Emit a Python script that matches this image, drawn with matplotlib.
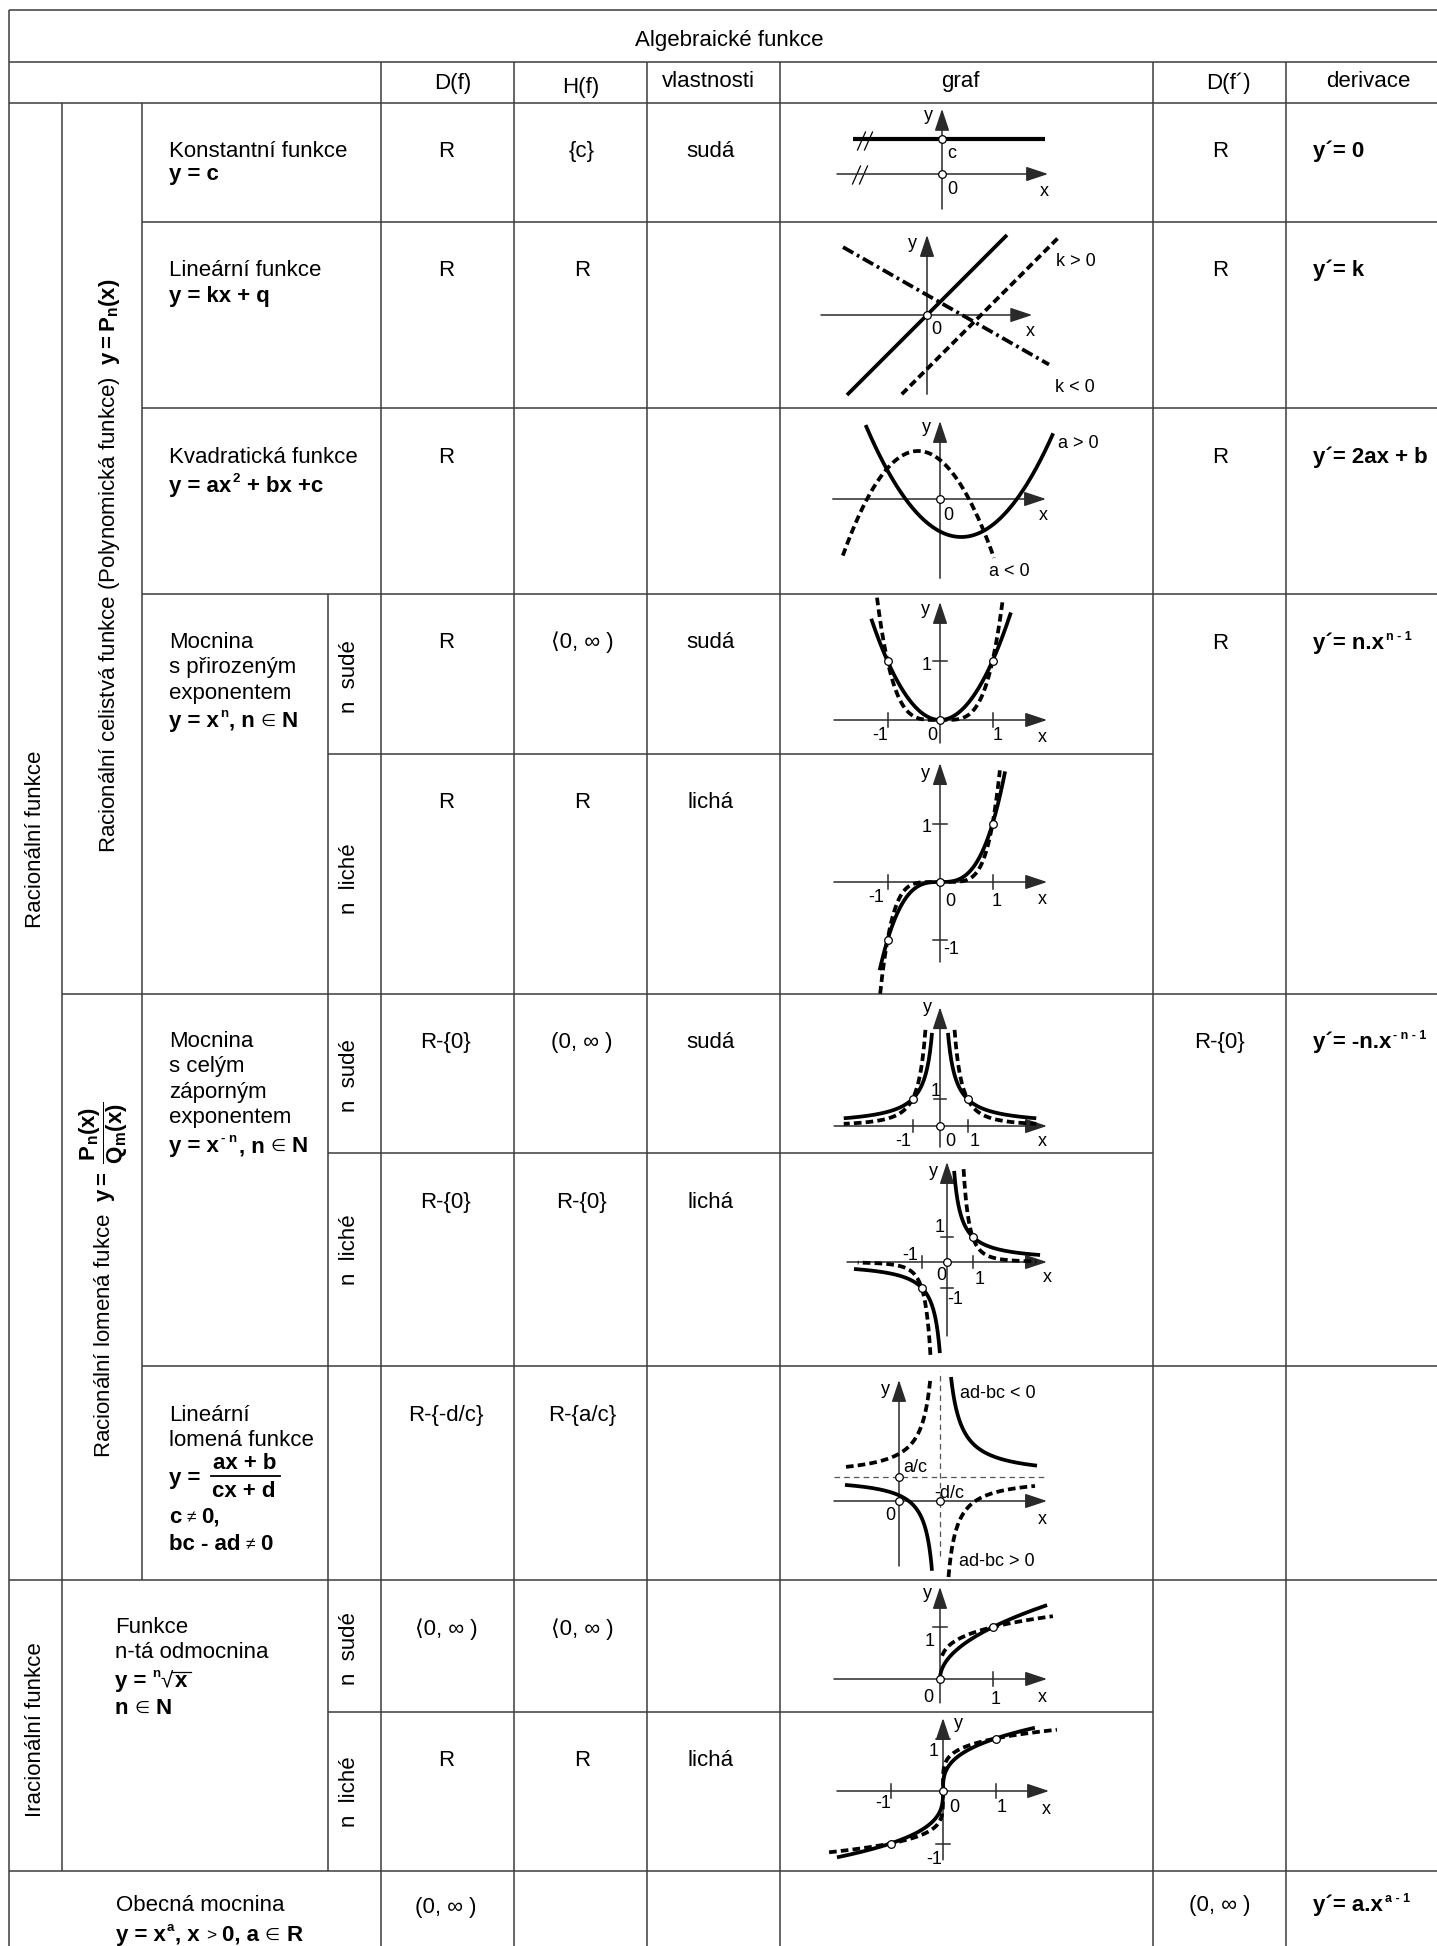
import numpy as np
import matplotlib
matplotlib.use("Agg")
import matplotlib.pyplot as plt

plt.rcParams["font.family"] = ["Liberation Sans", "DejaVu Sans"]
plt.rcParams["mathtext.fontset"] = "custom"
plt.rcParams["mathtext.rm"] = "Liberation Sans"
plt.rcParams["mathtext.it"] = "Liberation Sans:italic"
plt.rcParams["mathtext.bf"] = "Liberation Sans:bold"
plt.rcParams["mathtext.sf"] = "Liberation Sans"
plt.rcParams["lines.scale_dashes"] = False

# ===================== DATA =====================
TITLE = "Algebraické funkce"
COLUMN_HEADERS = ["D(f)", "H(f)", "vlastnosti", "graf", "D(f´)", "derivace"]
CLASS_LABELS = ["Racionální funkce", "Iracionální funkce"]
SUBCLASS_LABELS = [
    r"Racionální celistvá funkce (Polynomická funkce)  $\mathbf{y = P_n(x)}$",
    r"Racionální lomená fukce  $\mathbf{y =}\ \dfrac{\mathbf{P_n(x)}}{\mathbf{Q_m(x)}}$",
]
PARITY_LABELS = ["n sudé", "n liché", "n sudé", "n liché", "n sudé", "n liché"]

NAME_LINES = [
    ["Konstantní funkce"],
    ["Lineární funkce"],
    ["Kvadratická funkce"],
    ["Mocnina", "s přirozeným", "exponentem"],
    ["Mocnina", "s celým", "záporným", "exponentem"],
    ["Lineární", "lomená funkce"],
    ["Funkce", "n-tá odmocnina"],
    ["Obecná mocnina"],
]
# formula pieces: (text, style b=bold n=normal e=small symbol s=superscript, gap before)
FORMULAS = [
    [("y = c", "b", 0)],
    [("y = kx + q", "b", 0)],
    [("y = ax", "b", 0), ("2", "s", 1), ("+ bx +c", "b", 7)],
    [("y = x", "b", 0), ("n", "s", 1), (", n", "b", 1), ("∈", "e", 6), ("N", "b", 6)],
    [("y = x", "b", 0), ("- n", "s", 2), (", n", "b", 2), ("∈", "e", 6), ("N", "b", 6)],
    None,
    [("y =", "b", 0), ("n", "s", 6), ("√", "n", 0), ("x", "b", 2)],
    [("y = x", "b", 0), ("a", "s", 1), (", x", "b", 1), (">", "e", 6),
     ("0, a", "b", 6), ("∈", "e", 6), ("R", "b", 6)],
]
FRACTION = ["y =", "ax + b", "cx + d"]
FRACTION_CONDITIONS = [
    [("c", "b", 0), ("≠", "e", 5), ("0,", "b", 5)],
    [("bc - ad", "b", 0), ("≠", "e", 5), ("0", "b", 5)],
]
ROOT_CONDITION = [("n", "b", 0), ("∈", "e", 6), ("N", "b", 6)]

DOMAIN = ["R", "R", "R", "R", "R", "R-{0}", "R-{0}", "R-{-d/c}", "⟨0, ∞ )", "R", "(0, ∞ )"]
RANGE = ["{c}", "R", "", "⟨0, ∞ )", "R", "(0, ∞ )", "R-{0}", "R-{a/c}", "⟨0, ∞ )", "R", ""]
PARITY = ["sudá", "", "", "sudá", "lichá", "sudá", "lichá", "", "", "lichá", ""]
DERIV_DOMAIN = ["R", "R", "R", "R", "R-{0}", "(0, ∞ )"]
DERIVATIVES = [
    [("y´= 0", "b", 0)],
    [("y´= k", "b", 0)],
    [("y´= 2ax + b", "b", 0)],
    [("y´= n.x", "b", 0), ("n - 1", "s", 2)],
    [("y´= -n.x", "b", 0), ("- n - 1", "s", 2)],
    [("y´= a.x", "b", 0), ("a - 1", "s", 2)],
]

# graph data (math units of each small graph)
CONST_C = 1.0
CONST_XMIN, CONST_XMAX = -2.54, 2.94
LIN_SLOPE = [1.0, 1.0, -0.57]
LIN_ICPT = [0.0, -1.35, 0.5]
LIN_XMIN = [-2.0, -0.63, -2.1]
LIN_XMAX = [2.0, 3.28, 3.05]
LIN_LABELS = ["k > 0", "k < 0"]
QUAD_A = [0.49, -0.74]
QUAD_H = [0.53, -0.55]
QUAD_K = [-0.95, 1.2]
QUAD_XMIN = [-1.86, -2.43]
QUAD_XMAX = [2.83, 1.35]
QUAD_LABELS = ["a > 0", "a < 0"]
POW_EVEN_N = [2, 4]
POW_EVEN_XMIN = [-1.31, -1.2]
POW_EVEN_XMAX = [1.35, 1.19]
POW_ODD_N = [3, 5]
POW_ODD_XMIN = [-1.15, -1.14]
POW_ODD_XMAX = [1.24, 1.14]
NEG_EVEN_N = [1, 2]
NEG_EVEN_AMIN = [0.29, 0.53]
NEG_EVEN_AMAX = [3.5, 3.5]
NEG_ODD_N = [1, 3]
NEG_ODD_AMIN = [0.28, 0.65]
NEG_ODD_AMAX = [3.65, 3.5]
HYP_X0, HYP_Y0 = 1.64, 0.96
HYP_K = [1.76, 1.2, -1.52, -1.36]
HYP_XMIN = [2.08, -2.16, -2.12, 1.98]
HYP_XMAX = [5.52, 1.32, 1.26, 5.44]
HYP_DASHED = [False, False, True, True]
HYP_LABELS = ["ad-bc < 0", "ad-bc > 0", "a/c", "-d/c"]
ROOT_EVEN_P = [1 / 2, 1 / 4]
ROOT_EVEN_XMIN = [0.0, 0.04]
ROOT_EVEN_XMAX = [2.02, 2.13]
ROOT_ODD_P = [1 / 3, 1 / 5]
ROOT_ODD_XMIN = [-2.02, -2.17]
ROOT_ODD_XMAX = [1.75, 2.17]

# ===================== LAYOUT =====================
W, H = 1437, 1946
LINE_C = "#3c3c3c"
AX_C = "#2a2a2a"
FS = 16
GFS = 13

fig = plt.figure(figsize=(W / 100, H / 100), dpi=100)
ax = fig.add_axes([0, 0, 1, 1])
ax.set_xlim(0, W)
ax.set_ylim(H, 0)
ax.axis("off")
renderer = fig.canvas.get_renderer()

HLINES = [(10, 9, W), (62, 9, W), (103, 9, W), (222, 142, W), (408, 142, W), (594, 142, W),
          (754, 328, 1153), (994, 62, W), (1153, 328, 1153), (1366, 142, W), (1580, 9, W),
          (1712, 328, 1153), (1871, 9, W)]
VLINES = [(9, 10, H), (62, 103, 1871), (142, 103, 1580), (328, 594, 1871), (381, 62, H),
          (514, 62, H), (647, 62, H), (780, 62, H), (1153, 62, H), (1286, 62, H)]
for y, x0, x1 in HLINES:
    ax.plot([x0, x1], [y, y], color=LINE_C, lw=1.1, solid_capstyle="butt")
for x, y0, y1 in VLINES:
    ax.plot([x, x], [y0, y1], color=LINE_C, lw=1.1, solid_capstyle="butt")


def rich(x, y, parts, fs=FS, sup_fs=9.5, sup_dy=-10):
    cx = x
    out = []
    for text, style, gap in parts:
        cx += gap
        if style == "s":
            t = ax.text(cx, y + sup_dy, text, fontsize=sup_fs, fontweight="bold",
                        ha="left", va="baseline")
        elif style == "e":
            t = ax.text(cx, y - 1, text, fontsize=fs - 3.5, ha="left", va="baseline")
        else:
            t = ax.text(cx, y, text, fontsize=fs,
                        fontweight="bold" if style == "b" else "normal",
                        ha="left", va="baseline")
        bb = t.get_window_extent(renderer=renderer)
        cx += bb.width
        out.append(bb)
    return out


# title and headers
ax.text(729, 46, TITLE, fontsize=FS, ha="center", va="baseline")
HEAD_X = [453, 581, 708, 960, 1228, 1368]
HEAD_Y = [89, 93, 87, 87, 89, 87]
for s, x, y in zip(COLUMN_HEADERS, HEAD_X, HEAD_Y):
    ax.text(x, y, s, fontsize=FS, ha="center", va="baseline")

# rotated class labels
ax.text(41, 839, CLASS_LABELS[0], fontsize=FS, rotation=90, rotation_mode="anchor",
        ha="center", va="baseline")
ax.text(41, 1730, CLASS_LABELS[1], fontsize=FS, rotation=90, rotation_mode="anchor",
        ha="center", va="baseline")
ax.text(115, 566, SUBCLASS_LABELS[0], fontsize=FS, rotation=90, rotation_mode="anchor",
        ha="center", va="baseline")
ax.text(110, 1280, SUBCLASS_LABELS[1], fontsize=FS, rotation=90, rotation_mode="anchor",
        ha="center", va="baseline")
PARITY_Y = [677, 879, 1076, 1250, 1649, 1792]
for s, y in zip(PARITY_LABELS, PARITY_Y):
    ax.text(355, y, s.replace(" ", "  "), fontsize=FS, rotation=90, rotation_mode="anchor",
            ha="center", va="baseline")

# function names + formulas
NAME_X = [169, 169, 169, 169, 169, 169, 115, 116]
NAME_BASE = [157, 276, 463, 648, 1047, 1421, 1633, 1911]
NAME_STEP = 25.3
FORMULA_BASE = [180, 302, 492, 727, 1152, None, 1687, 1941]
for i, lines in enumerate(NAME_LINES):
    for j, s in enumerate(lines):
        ax.text(NAME_X[i], NAME_BASE[i] + j * NAME_STEP, s, fontsize=FS, ha="left", va="baseline")
    if FORMULAS[i] is not None:
        bbs = rich(NAME_X[i], FORMULA_BASE[i], FORMULAS[i])
        if i == 6:
            bsq, bx = bbs[2], bbs[3]
            ytop = H - bsq.y1 + 1
            ax.plot([bsq.x1 - 1, bx.x1 + 4], [ytop, ytop], color="k", lw=0.9)

# linear fractional formula
ax.text(169, 1484, FRACTION[0], fontsize=FS, fontweight="bold", ha="left", va="baseline")
ax.text(245, 1469, FRACTION[1], fontsize=FS, fontweight="bold", ha="center", va="baseline")
ax.plot([211, 280], [1476, 1476], color="k", lw=1.3)
ax.text(244, 1497, FRACTION[2], fontsize=FS, fontweight="bold", ha="center", va="baseline")
rich(169, 1523, FRACTION_CONDITIONS[0])
rich(169, 1550, FRACTION_CONDITIONS[1])
rich(115, 1714, ROOT_CONDITION)

# value columns
VAL_BASE = [157, 276, 463, 648, 808, 1048, 1208, 1421, 1635, 1766, 1913]
for s, y in zip(DOMAIN, VAL_BASE):
    if s:
        ax.text(446, y, s, fontsize=FS, ha="center", va="baseline")
for s, y in zip(RANGE, VAL_BASE):
    if s:
        ax.text(582, y, s, fontsize=FS, ha="center", va="baseline")
for s, y in zip(PARITY, VAL_BASE):
    if s:
        ax.text(711, y, s, fontsize=FS, ha="center", va="baseline")
DER_BASE = [157, 276, 463, 649, 1048, 1911]
for s, y in zip(DERIV_DOMAIN, DER_BASE):
    ax.text(1220, y, s, fontsize=FS, ha="center", va="baseline")
for parts, y in zip(DERIVATIVES, DER_BASE):
    rich(1313, y, parts, sup_fs=9, sup_dy=-9)


# ===================== GRAPHS =====================
def inset(top, bot, ox, oy, ux, uy):
    a = fig.add_axes([780 / W, 1 - bot / H, 373 / W, (bot - top) / H])
    a.set_xlim((780 - ox) / ux, (1153 - ox) / ux)
    a.set_ylim((oy - bot) / uy, (oy - top) / uy)
    a.axis("off")
    a.patch.set_visible(False)
    return a


def arrow(a, x0, y0, x1, y1):
    a.annotate("", xy=(x1, y1), xytext=(x0, y0), annotation_clip=False,
               arrowprops=dict(arrowstyle="-|>,head_length=1.35,head_width=0.45",
                               mutation_scale=10, lw=1.1, color=AX_C,
                               shrinkA=0, shrinkB=0))


def axes_xy(a, xl, xr, yb, yt):
    arrow(a, xl, 0, xr, 0)
    arrow(a, 0, yb, 0, yt)


def ticks(a, ux, uy, xt, yt, h=7):
    for t in xt:
        a.plot([t, t], [-h / uy, h / uy], color=AX_C, lw=1.1, clip_on=False)
    for t in yt:
        a.plot([-h / ux, h / ux], [t, t], color=AX_C, lw=1.1, clip_on=False)


def circles(a, pts):
    xs_, ys_ = zip(*pts)
    a.plot(xs_, ys_, "o", ms=5.5, mfc="white", mec="black", mew=0.9, zorder=6, clip_on=False)


DASH = (0, (5.5, 3))
DASHDOT = (0, (8.5, 3, 2, 3))
CW = 2.7


def curve(a, x, y, dashed=False, ls=None):
    style = ls if ls is not None else (DASH if dashed else "-")
    a.plot(x, y, color="k", lw=CW, ls=style, solid_capstyle="butt",
           dash_capstyle="butt", clip_on=False, zorder=4)


def grid_x(lo, hi, n=700):
    x = np.linspace(lo, hi, n)
    m = max(abs(lo), abs(hi))
    g = np.geomspace(1e-6, m, 300)
    g = np.concatenate([g, -g, [0.0]])
    g = g[(g >= lo) & (g <= hi)]
    return np.unique(np.concatenate([x, g]))


def spow(x, p):
    return np.sign(x) * np.abs(x) ** p


def label(x, y, s, ha="center"):
    ax.text(x, y, s, fontsize=GFS, ha=ha, va="center_baseline")


# 1 constant
a = inset(103, 222, 942, 174, 35, 35)
axes_xy(a, -3.0, 3.03, -1.0, 1.86)
a.plot([CONST_XMIN, CONST_XMAX], [CONST_C, CONST_C], color="k", lw=3.0, solid_capstyle="butt")
circles(a, [(0, 0), (0, CONST_C)])
for cx, cy in [(865, 141), (860, 175)]:
    for dx in (-3.5, 3.5):
        ax.plot([cx + dx - 4, cx + dx + 4], [cy + 9, cy - 9], color="k", lw=0.9)
for x, y, s in [(928, 114, "y"), (952, 151, "c"), (952, 188, "0"), (1044, 189, "x")]:
    label(x, y, s)

# 2 linear
a = inset(222, 408, 927, 315, 40, 40)
axes_xy(a, -2.65, 2.63, -1.98, 2.0)
styles = ["-", DASH, DASHDOT]
for k, q, x0, x1, st in zip(LIN_SLOPE, LIN_ICPT, LIN_XMIN, LIN_XMAX, styles):
    x = np.linspace(x0, x1, 50)
    curve(a, x, k * x + q, ls=st)
circles(a, [(0, 0)])
for x, y, s in [(912, 242, "y"), (936, 328, "0"), (1030, 329, "x")]:
    label(x, y, s)
label(1056, 260, LIN_LABELS[0], ha="left")
label(1055, 386, LIN_LABELS[1], ha="left")

# 3 quadratic
a = inset(408, 594, 940, 499, 40, 40)
axes_xy(a, -2.68, 2.65, -1.98, 1.95)
for qa, qh, qk, x0, x1, d in zip(QUAD_A, QUAD_H, QUAD_K, QUAD_XMIN, QUAD_XMAX, [False, True]):
    x = np.linspace(x0, x1, 300)
    curve(a, x, qa * (x - qh) ** 2 + qk, dashed=d)
circles(a, [(0, 0)])
for x, y, s in [(926, 426, "y"), (948, 513, "0"), (1043, 513, "x")]:
    label(x, y, s)
label(1058, 442, QUAD_LABELS[0], ha="left")
label(989, 570, QUAD_LABELS[1], ha="left")

# 4 x^n even
ux, uy = 52.5, 59
a = inset(594, 754, 940, 720, ux, uy)
axes_xy(a, -2.02, 2.04, -0.39, 2.0)
ticks(a, ux, uy, [-1, 1], [1])
for n, x0, x1, d in zip(POW_EVEN_N, POW_EVEN_XMIN, POW_EVEN_XMAX, [False, True]):
    x = np.linspace(x0, x1, 300)
    curve(a, x, x ** n, dashed=d)
circles(a, [(0, 0), (-1, 1), (1, 1)])
for x, y, s in [(925, 608, "y"), (927, 663, "1"), (880, 733, "-1"), (932, 733, "0"),
                (998, 733, "1"), (1042, 735, "x")]:
    label(x, y, s)

# 5 x^n odd
ux, uy = 52.5, 58
a = inset(754, 994, 940, 882, ux, uy)
axes_xy(a, -2.02, 2.04, -1.38, 2.05)
ticks(a, ux, uy, [-1, 1], [-1, 1])
for n, x0, x1, d in zip(POW_ODD_N, POW_ODD_XMIN, POW_ODD_XMAX, [False, True]):
    x = np.linspace(x0, x1, 300)
    curve(a, x, x ** n, dashed=d)
circles(a, [(0, 0), (1, 1), (-1, -1)])
for x, y, s in [(925, 771, "y"), (927, 825, "1"), (876, 896, "-1"), (950, 899, "0"),
                (997, 900, "1"), (1042, 898, "x"), (951, 948, "-1")]:
    label(x, y, s)

# 6 x^-n even
ux, uy = 27.5, 27
a = inset(994, 1153, 940, 1126, ux, uy)
axes_xy(a, -3.85, 3.89, -0.78, 4.4)
ticks(a, ux, uy, [-1, 1], [1], h=6)
for n, m0, m1, d in zip(NEG_EVEN_N, NEG_EVEN_AMIN, NEG_EVEN_AMAX, [False, True]):
    x = np.linspace(m0, m1, 300)
    curve(a, x, x ** (-float(n)), dashed=d)
    curve(a, -x, x ** (-float(n)), dashed=d)
circles(a, [(0, 0), (-1, 1), (1, 1)])
for x, y, s in [(927, 1006, "y"), (936, 1090, "1"), (903, 1139, "-1"), (950, 1139, "0"),
                (975, 1139, "1"), (1042, 1139, "x")]:
    label(x, y, s)

# 7 x^-n odd
u = 25.5
a = inset(1153, 1366, 947, 1262, u, u)
axes_xy(a, -3.92, 3.92, -2.9, 3.92)
ticks(a, u, u, [-1, 1], [-1, 1], h=6)
for n, m0, m1, d in zip(NEG_ODD_N, NEG_ODD_AMIN, NEG_ODD_AMAX, [False, True]):
    x = np.linspace(m0, m1, 300)
    curve(a, x, x ** (-float(n)), dashed=d)
    curve(a, -x, -(x ** (-float(n))), dashed=d)
circles(a, [(0, 0), (1, 1), (-1, -1)])
for x, y, s in [(933, 1170, "y"), (940, 1225, "1"), (910, 1254, "-1"), (941, 1274, "0"),
                (980, 1277, "1"), (1047, 1275, "x"), (955, 1297, "-1")]:
    label(x, y, s)

# 8 linear fractional
u = 25
a = inset(1366, 1580, 899, 1501, u, u)
axes_xy(a, -2.6, 5.92, -2.6, 4.84)
a.plot([HYP_X0, HYP_X0], [-2.2, 5.2], color="#555555", lw=0.9, ls=(0, (4, 3)))
a.plot([-2.6, 5.92], [HYP_Y0, HYP_Y0], color="#555555", lw=0.9, ls=(0, (4, 3)))
for k, x0, x1, d in zip(HYP_K, HYP_XMIN, HYP_XMAX, HYP_DASHED):
    x = np.linspace(x0, x1, 400)
    curve(a, x, HYP_Y0 + k / (x - HYP_X0), dashed=d)
circles(a, [(0, HYP_Y0), (0, 0), (HYP_X0, 0)])
for x, y, s in [(885, 1388, "y"), (890, 1514, "0"), (1042, 1518, "x")]:
    label(x, y, s)
label(960, 1391, HYP_LABELS[0], ha="left")
label(959, 1559, HYP_LABELS[1], ha="left")
label(903, 1466, HYP_LABELS[2], ha="left")
label(934, 1491, HYP_LABELS[3], ha="left")

# 9 even root
ux, uy = 53, 52
a = inset(1580, 1712, 940, 1679, ux, uy)
axes_xy(a, -2.0, 2.02, -0.46, 1.77)
ticks(a, ux, uy, [1], [1])
for p, x0, x1, d in zip(ROOT_EVEN_P, ROOT_EVEN_XMIN, ROOT_EVEN_XMAX, [False, True]):
    x = grid_x(x0, x1)
    curve(a, x, x ** p, dashed=d)
circles(a, [(0, 0), (1, 1)])
for x, y, s in [(927, 1591, "y"), (930, 1639, "1"), (928, 1695, "0"), (996, 1698, "1"),
                (1042, 1695, "x")]:
    label(x, y, s)

# 10 odd root
u = 52.5
a = inset(1712, 1871, 943, 1791, u, u)
axes_xy(a, -2.02, 2.02, -1.31, 1.39)
ticks(a, u, u, [-1, 1], [-1, 1])
for p, x0, x1, d in zip(ROOT_ODD_P, ROOT_ODD_XMIN, ROOT_ODD_XMAX, [False, True]):
    x = grid_x(x0, x1)
    curve(a, x, spow(x, p), dashed=d)
circles(a, [(0, 0), (1, 1), (-1, -1)])
for x, y, s in [(958, 1721, "y"), (934, 1750, "1"), (883, 1802, "-1"), (954, 1806, "0"),
                (1002, 1806, "1"), (1046, 1807, "x"), (934, 1858, "-1")]:
    label(x, y, s)

fig.savefig("out.png", dpi=100)
